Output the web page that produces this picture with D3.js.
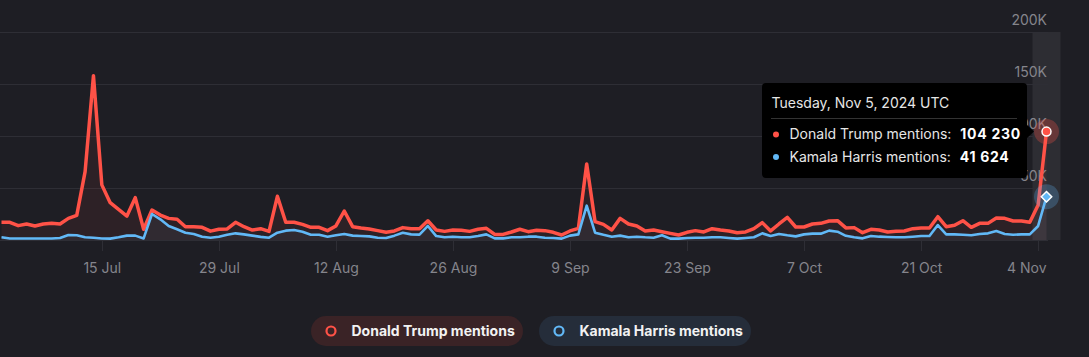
<!DOCTYPE html>
<html>
<head>
<meta charset="utf-8">
<script src="https://cdn.jsdelivr.net/npm/d3@7"></script>
<style>
  html, body { margin: 0; padding: 0; background: #1e1e24; }
  svg { display: block; font-family: Inter, "Noto Sans", sans-serif; }
</style>
</head>
<body>
<svg id="chart" width="1089" height="357"></svg>
<script>
// ---------- data ----------
const startDate = "2024-07-03";
const trumpValues = [
  17000, 17000, 13800, 15400, 13500, 15400, 16000, 15400, 20800, 23700,
  65700, 158000, 53000, 35900, 29500, 23000, 40700, 10300, 28800, 24000,
  20800, 19900, 12800, 12800, 12200, 8500, 10300, 10600, 17000, 12800,
  9600, 10900, 8300, 42000, 17000, 17000, 15000, 12200, 12200, 9000,
  13500, 27900, 12800, 11500, 10600, 9000, 7400, 8700, 11900, 10900,
  10900, 18500, 9600, 8300, 9600, 9300, 8300, 10300, 11200, 5400,
  5400, 7700, 10300, 8000, 9300, 9000, 7400, 4800, 8700, 11200,
  73000, 17600, 15000, 9600, 20800, 15400, 13500, 8700, 9600, 8000,
  6400, 4800, 7400, 9000, 7700, 10900, 9600, 8700, 7000, 7700,
  10900, 16700, 8700, 15400, 21800, 12500, 12500, 15400, 16000, 18300,
  18600, 11600, 11900, 7000, 10300, 9600, 7700, 8300, 8700, 10900,
  11500, 11500, 22400, 12800, 14100, 18600, 12200, 16000, 16000, 21200,
  20800, 18300, 18300, 17000, 33700, 104230
];
const harrisValues = [
  2600, 1500, 1500, 1500, 1500, 1500, 1500, 1900, 4800, 4500,
  2600, 2200, 1500, 1300, 2600, 4200, 4200, 1500, 25000, 19900,
  13500, 10300, 7000, 5800, 3200, 2200, 3200, 5000, 6400, 5400,
  4200, 3000, 2200, 7000, 9000, 9600, 8000, 5000, 5000, 3200,
  4500, 5800, 4200, 3800, 3500, 2200, 1900, 4200, 7000, 5400,
  5200, 13500, 3800, 2600, 3200, 2600, 2600, 3800, 5400, 1600,
  1600, 2600, 2600, 3200, 3200, 2200, 1900, 1300, 4200, 5400,
  33000, 7000, 5000, 3200, 4200, 2600, 3200, 2600, 2200, 4500,
  1300, 1300, 1900, 2200, 2200, 2600, 2600, 1900, 1300, 1900,
  2600, 6400, 3800, 5800, 4500, 3500, 5400, 6100, 6100, 9000,
  8000, 4000, 2600, 1600, 3800, 3200, 2900, 2600, 2600, 3200,
  3800, 3800, 14400, 5400, 5400, 5000, 4500, 5800, 6400, 8700,
  5800, 5000, 5400, 5400, 13500, 41624
];
const seriesNames = ["Donald Trump mentions", "Kamala Harris mentions"];
const xTickDates = ["2024-07-15", "2024-07-29", "2024-08-12", "2024-08-26", "2024-09-09",
                    "2024-09-23", "2024-10-07", "2024-10-21", "2024-11-04"];
const yTickValues = [50000, 100000, 150000, 200000];
const tooltipTitle = "Tuesday, Nov 5, 2024 UTC";

// ---------- styles ----------
const colors = { trump: "#ff5247", harris: "#62b8f6" };
const bg = "#1e1e24", grid = "#2e2e35", labelColor = "#85858c";

const svg = d3.select("#chart");
svg.append("rect").attr("width", 1089).attr("height", 357).attr("fill", bg);

const parse = d3.utcParse("%Y-%m-%d");
const t0 = parse(startDate);
const dates = trumpValues.map((_, i) => d3.utcDay.offset(t0, i));
const trump = dates.map((d, i) => ({ date: d, value: trumpValues[i] }));
const harris = dates.map((d, i) => ({ date: d, value: harrisValues[i] }));

const x = d3.scaleUtc().domain([dates[0], dates[dates.length - 1]]).range([1.5, 1046.5]);
const y = d3.scaleLinear().domain([0, 200000]).range([240, 32]);
const plotRight = 1048;

// crosshair band
const last = dates[dates.length - 1];
svg.append("rect")
  .attr("x", x(last) - 14).attr("y", y(200000))
  .attr("width", 28).attr("height", y(0) - y(200000))
  .attr("fill", "#ffffff").attr("fill-opacity", 0.07);

// gridlines
const gridAxis = d3.axisLeft(y).tickValues(yTickValues).tickSize(-plotRight).tickFormat("");
svg.append("g").call(gridAxis)
  .call(g => g.select(".domain").remove())
  .call(g => g.selectAll("line").attr("stroke", grid).attr("stroke-width", 1).attr("shape-rendering", "crispEdges"));

// x axis
const xAxis = d3.axisBottom(x)
  .tickValues(xTickDates.map(parse))
  .tickFormat(d3.utcFormat("%-d %b"))
  .tickSize(11).tickPadding(12);
const gx = svg.append("g").attr("transform", `translate(0,${y(0)})`).call(xAxis);
gx.select(".domain").attr("d", `M0,0.5H${plotRight}`).attr("stroke", grid).attr("shape-rendering", "crispEdges");
gx.selectAll("line").attr("stroke", grid).attr("shape-rendering", "crispEdges");
gx.selectAll("text").attr("fill", labelColor).attr("font-size", 14)
  .attr("font-family", "Inter, sans-serif");
gx.selectAll(".tick").filter((d, i, n) => i === n.length - 1).select("text")
  .attr("text-anchor", "end").attr("x", plotRight - 2 - x(parse(xTickDates[xTickDates.length - 1])));

// y axis labels
const yAxis = d3.axisLeft(y).tickValues(yTickValues).tickSize(0).tickPadding(0)
  .tickFormat(d => (d / 1000) + "K");
const gy = svg.append("g").attr("transform", `translate(${plotRight - 1},0)`).call(yAxis);
gy.select(".domain").remove();
gy.selectAll("text").attr("fill", labelColor).attr("font-size", 14)
  .attr("dy", null).attr("y", -8).attr("font-family", "Inter, sans-serif");

// areas & lines
const area = d3.area().x(d => x(d.date)).y0(y(0)).y1(d => y(d.value));
const line = d3.line().x(d => x(d.date)).y(d => y(d.value));

svg.append("path").datum(trump).attr("d", area).attr("fill", colors.trump).attr("fill-opacity", 0.07);
svg.append("path").datum(harris).attr("d", area).attr("fill", colors.harris).attr("fill-opacity", 0.06);
svg.append("path").datum(trump).attr("d", line).attr("fill", "none")
  .attr("stroke", colors.trump).attr("stroke-width", 3.5).attr("stroke-linejoin", "round");
svg.append("path").datum(harris).attr("d", line).attr("fill", "none")
  .attr("stroke", colors.harris).attr("stroke-width", 2.6).attr("stroke-linejoin", "round");

// hover markers
const lt = trump[trump.length - 1], lh = harris[harris.length - 1];
svg.append("circle").attr("cx", x(lt.date)).attr("cy", y(lt.value)).attr("r", 12.5)
  .attr("fill", colors.trump).attr("fill-opacity", 0.28);
svg.append("circle").attr("cx", x(lh.date)).attr("cy", y(lh.value)).attr("r", 12.5)
  .attr("fill", colors.harris).attr("fill-opacity", 0.25);
svg.append("circle").attr("cx", x(lt.date)).attr("cy", y(lt.value)).attr("r", 4.5)
  .attr("fill", colors.trump).attr("stroke", "#fff").attr("stroke-width", 1.5);
svg.append("path").attr("d", d3.symbol(d3.symbolDiamond2, 70)())
  .attr("transform", `translate(${x(lh.date)},${y(lh.value)})`)
  .attr("fill", colors.harris).attr("stroke", "#fff").attr("stroke-width", 1.5);

// tooltip
const tt = svg.append("g");
tt.append("path").attr("d", "M1026,124L1034,131.5L1026,139Z").attr("fill", "#000");
tt.append("rect").attr("x", 762).attr("y", 83).attr("width", 265).attr("height", 95)
  .attr("rx", 4).attr("fill", "#000");
tt.append("text").attr("x", 771.5).attr("y", 108).attr("fill", "#e6e6e6")
  .attr("font-size", 14).text(tooltipTitle);
tt.append("line").attr("x1", 771).attr("x2", 1017).attr("y1", 118.5).attr("y2", 118.5)
  .attr("stroke", "#333").attr("stroke-width", 1);
const rows = [
  { name: seriesNames[0], value: lt.value, color: colors.trump, y: 139 },
  { name: seriesNames[1], value: lh.value, color: colors.harris, y: 161.5 }
];
const fmt = v => d3.format(",")(v).replace(/,/g, " ");
rows.forEach(r => {
  tt.append("circle").attr("cx", 776).attr("cy", r.y - 4.5).attr("r", 3).attr("fill", r.color);
  const t = tt.append("text").attr("x", 789.5).attr("y", r.y).attr("fill", "#e6e6e6").attr("font-size", 14);
  t.append("tspan").text(r.name + ":");
  t.append("tspan").attr("dx", 9).attr("font-weight", 700).attr("letter-spacing", 0.7)
    .attr("fill", "#fff").text(fmt(r.value));
});

// legend
const legend = [
  { name: seriesNames[0], color: colors.trump, fill: "#3a2326", x: 311, w: 212 },
  { name: seriesNames[1], color: colors.harris, fill: "#252d3a", x: 539, w: 212 }
];
legend.forEach(l => {
  const g = svg.append("g");
  g.append("rect").attr("x", l.x).attr("y", 316).attr("width", l.w).attr("height", 30)
    .attr("rx", 15).attr("fill", l.fill);
  g.append("circle").attr("cx", l.x + 20).attr("cy", 331).attr("r", 4.5)
    .attr("fill", "none").attr("stroke", l.color).attr("stroke-width", 2.2);
  g.append("text").attr("x", l.x + 40.5).attr("y", 335.5).attr("fill", "#f2f2f2")
    .attr("font-size", 14).attr("font-weight", 700).text(l.name);
});
</script>
</body>
</html>
